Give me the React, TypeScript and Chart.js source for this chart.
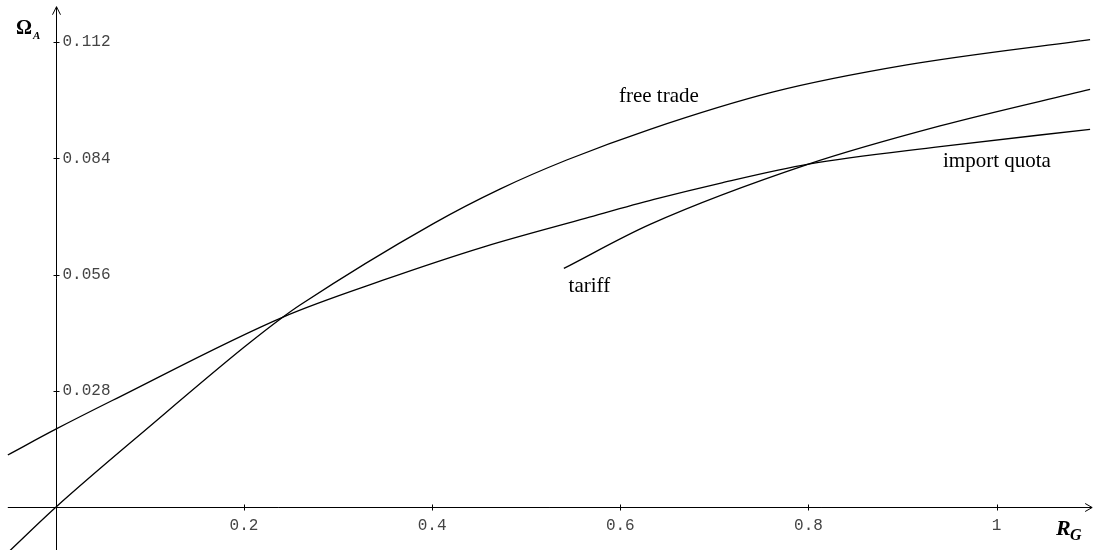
import React, { useEffect, useRef } from "react";
import { Chart, registerables } from "chart.js";

Chart.register(...registerables);

// ---- data ----
const freeTradeX = [-0.05, 0, 0.1, 0.2, 0.2415, 0.2596, 0.4013, 0.472, 0.543, 0.6316, 0.7627, 0.9045, 1.0993];
const freeTradeY = [-0.0107, 0, 0.0195, 0.0385, 0.0458, 0.0487, 0.0683, 0.0766, 0.0836, 0.091, 0.1, 0.1065, 0.1126];

const importQuotaX = [-0.051, 0, 0.06, 0.2415, 0.347, 0.455, 0.5636, 0.6358, 0.708, 0.8, 0.9398, 1.0993];
const importQuotaY = [0.0126, 0.0188, 0.0257, 0.0458, 0.0546, 0.0627, 0.0696, 0.0741, 0.0781, 0.0826, 0.0868, 0.091];

const tariffX = [0.54, 0.6316, 0.8, 0.9398, 1.0993];
const tariffY = [0.0575, 0.0681, 0.0826, 0.0918, 0.1006];

const xTickValues = [0.2, 0.4, 0.6, 0.8, 1];
const xTickLabels = ["0.2", "0.4", "0.6", "0.8", "1"];
const yTickValues = [0.028, 0.056, 0.084, 0.112];
const yTickLabels = ["0.028", "0.056", "0.084", "0.112"];

const curveLabels = ["free trade", "import quota", "tariff"];
const curveLabelX = [0.5986, 0.943, 0.545];
const curveLabelY = [0.0976, 0.0818, 0.0518];

const xAxisRange = [-0.051, 1.1015];
const yAxisRange = [-0.0105, 0.1205];

const toPts = (xs: number[], ys: number[]) => xs.map((x, i) => ({ x, y: ys[i] }));

const axesPlugin = {
  id: "mathAxes",
  beforeDatasetsDraw(chart: any) {
    const { ctx, scales } = chart;
    const sx = scales.x;
    const sy = scales.y;
    const x0 = Math.round(sx.getPixelForValue(0)) + 0.5;
    const y0 = Math.round(sy.getPixelForValue(0)) + 0.5;
    const xl = sx.getPixelForValue(xAxisRange[0]);
    const xr = sx.getPixelForValue(xAxisRange[1]);
    const yb = sy.getPixelForValue(yAxisRange[0]);
    const yt = sy.getPixelForValue(yAxisRange[1]);
    ctx.save();
    ctx.strokeStyle = "#000";
    ctx.lineWidth = 1;
    ctx.beginPath();
    // x axis
    ctx.moveTo(xl, y0);
    ctx.lineTo(xr, y0);
    ctx.moveTo(xr - 7, y0 - 4);
    ctx.lineTo(xr, y0);
    ctx.lineTo(xr - 7, y0 + 4);
    // y axis
    ctx.moveTo(x0, yb);
    ctx.lineTo(x0, yt);
    ctx.moveTo(x0 - 4, yt + 8);
    ctx.lineTo(x0, yt);
    ctx.lineTo(x0 + 4, yt + 8);
    // ticks
    xTickValues.forEach((v) => {
      const px = Math.round(sx.getPixelForValue(v)) + 0.5;
      ctx.moveTo(px, y0 - 3);
      ctx.lineTo(px, y0 + 3);
    });
    yTickValues.forEach((v) => {
      const py = Math.round(sy.getPixelForValue(v)) + 0.5;
      ctx.moveTo(x0 - 3, py);
      ctx.lineTo(x0 + 3, py);
    });
    ctx.stroke();

    // tick labels
    ctx.fillStyle = "#444";
    ctx.font = "16px 'Liberation Mono', monospace";
    ctx.textAlign = "center";
    ctx.textBaseline = "middle";
    xTickValues.forEach((v, i) => {
      ctx.fillText(xTickLabels[i], sx.getPixelForValue(v), y0 + 18);
    });
    ctx.textAlign = "left";
    yTickValues.forEach((v, i) => {
      ctx.fillText(yTickLabels[i], x0 + 6, sy.getPixelForValue(v));
    });
    ctx.restore();
  },
  afterDraw(chart: any) {
    const { ctx, scales } = chart;
    const sx = scales.x;
    const sy = scales.y;
    ctx.save();
    ctx.fillStyle = "#000";
    ctx.textBaseline = "alphabetic";
    ctx.textAlign = "left";
    ctx.font = "21px 'Liberation Serif', serif";
    curveLabels.forEach((t, i) => {
      ctx.fillText(t, sx.getPixelForValue(curveLabelX[i]), sy.getPixelForValue(curveLabelY[i]));
    });
    // axis titles
    ctx.font = "bold 20px 'Liberation Serif', serif";
    ctx.fillText("Ω", 16, 34);
    ctx.font = "bold italic 11px 'Liberation Serif', serif";
    ctx.fillText("A", 33, 39);
    ctx.font = "bold italic 22px 'Liberation Serif', serif";
    ctx.fillText("R", 1056, 535);
    ctx.font = "bold italic 16px 'Liberation Serif', serif";
    ctx.fillText("G", 1070, 540);
    ctx.restore();
  },
};

export default function App() {
  const ref = useRef<HTMLCanvasElement>(null);
  useEffect(() => {
    if (!ref.current) return;
    const line = (label: string, xs: number[], ys: number[]) => ({
      label,
      data: toPts(xs, ys),
      borderColor: "#000",
      borderWidth: 1.3,
      pointRadius: 0,
      fill: false,
      cubicInterpolationMode: "monotone" as const,
    });
    const chart = new Chart(ref.current, {
      type: "line",
      data: {
        datasets: [
          line("free trade", freeTradeX, freeTradeY),
          line("import quota", importQuotaX, importQuotaY),
          line("tariff", tariffX, tariffY),
        ],
      },
      options: {
        animation: false,
        responsive: false,
        layout: { padding: 0 },
        plugins: { legend: { display: false }, tooltip: { enabled: false } },
        scales: {
          x: { type: "linear", min: -0.0593, max: 1.1024, display: false },
          y: { type: "linear", min: -0.01028, max: 0.12212, display: false },
        },
      },
      plugins: [axesPlugin],
    });
    return () => chart.destroy();
  }, []);
  return (
    <div style={{ position: "fixed", left: 0, top: 0, width: 1093, height: 550, background: "#fff" }}>
      <canvas ref={ref} width={1093} height={550} style={{ display: "block" }} />
    </div>
  );
}
